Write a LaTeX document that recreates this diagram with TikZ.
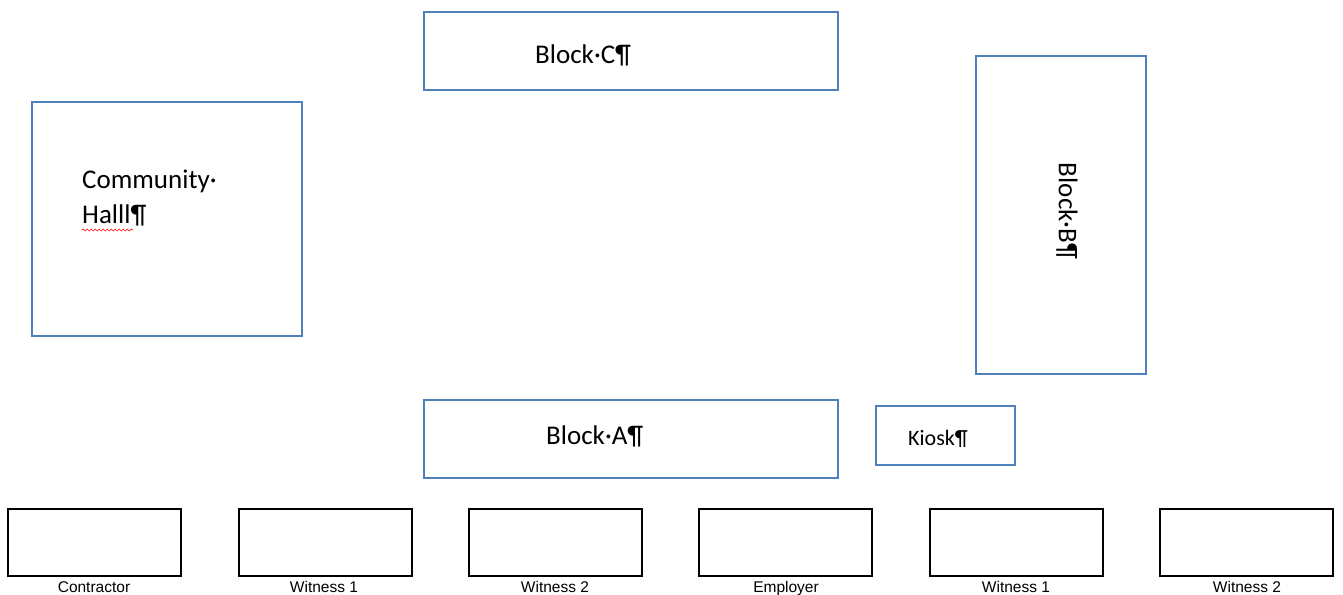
\documentclass[tikz,border=0pt]{standalone}
\usepackage{fontspec}
\setmainfont{Carlito}
\newfontfamily\arialfont{Liberation Sans}
\usetikzlibrary{decorations.pathmorphing}
\definecolor{officeblue}{HTML}{4F81BD}
\tikzset{
  bldg/.style={draw=officeblue, line width=1.6pt, inner sep=0pt, fill=white},
  sigbox/.style={draw=black, line width=2pt, inner sep=0pt, minimum width=173pt, minimum height=67pt},
  lbl/.style={inner sep=0pt, anchor=west, font=\fontsize{27}{35}\selectfont},
  caption/.style={inner sep=0pt, anchor=base, font=\arialfont\fontsize{15.5}{18}\selectfont},
}
\begin{document}
\begin{tikzpicture}[x=1pt,y=-1pt]
\useasboundingbox (0,0) rectangle (1343,594);
\fill[white] (0,0) rectangle (1343,594);
% buildings
\node[bldg, minimum width=414pt, minimum height=78pt] (blockC) at (631,51) {};
\node[bldg, minimum width=270pt, minimum height=234pt] (hall) at (167,219) {};
\node[bldg, minimum width=170pt, minimum height=318pt] (blockB) at (1061,215) {};
\node[bldg, minimum width=414pt, minimum height=78pt] (blockA) at (631,439) {};
\node[bldg, minimum width=139pt, minimum height=59pt] (kiosk) at (945.5,435.5) {};
% labels
\node[lbl] (tC) at (535,55) {Block·C¶};
\node[lbl, align=left, anchor=north west] (tH) at (82,170) {Community·\\Halll¶};
\coordinate (w1) at (82,230);
\coordinate (w2) at (133,230);
\draw[red, line width=0.7pt, decorate, decoration={snake, segment length=4pt, amplitude=1pt}] (w1) -- (w2);
\node[lbl, anchor=center, rotate=-90] (tB) at (1067,211) {Block·B¶};
\node[lbl] (tA) at (546,436) {Block·A¶};
\node[lbl, font=\fontsize{22}{24}\selectfont] (tK) at (908,439) {Kiosk¶};
% signature boxes
\node[sigbox] (s1) at (94.5,542.5) {};
\node[sigbox] (s2) at (325,542.5) {};
\node[sigbox] (s3) at (555,542.5) {};
\node[sigbox] (s4) at (785,542.5) {};
\node[sigbox] (s5) at (1016.5,542.5) {};
\node[sigbox] (s6) at (1246.5,542.5) {};
\node[caption] (c1) at (94,592) {Contractor};
\node[caption] (c2) at (324,592) {Witness 1};
\node[caption] (c3) at (555,592) {Witness 2};
\node[caption] (c4) at (786,592) {Employer};
\node[caption] (c5) at (1016,592) {Witness 1};
\node[caption] (c6) at (1247,592) {Witness 2};
\end{tikzpicture}
\end{document}
